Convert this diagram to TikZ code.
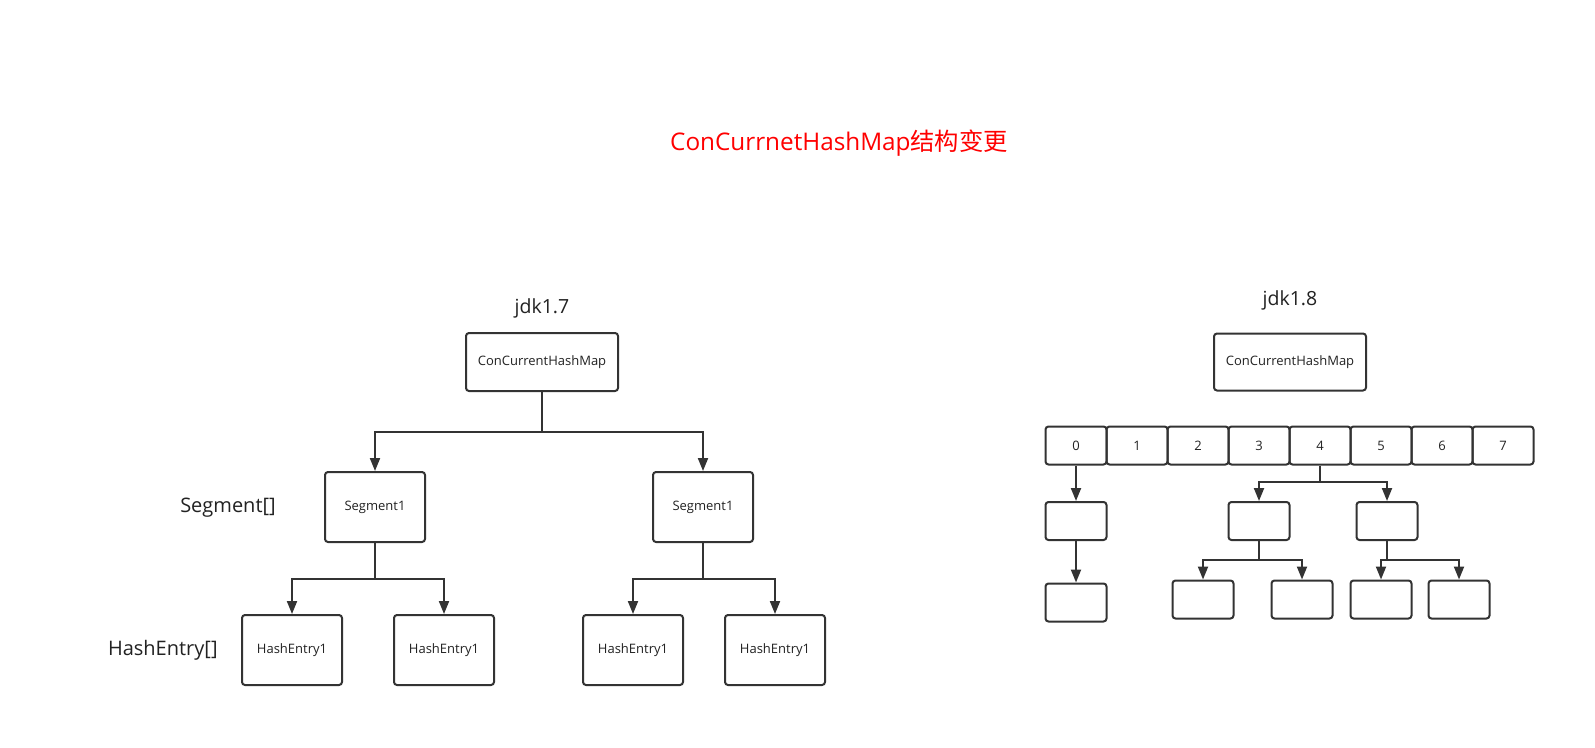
\documentclass[tikz,border=0pt]{standalone}
\usepackage{fontspec}
\setmainfont{Open Sans}
\newfontfamily\cjk{Noto Sans CJK SC}
\usetikzlibrary{arrows.meta}
\definecolor{linec}{HTML}{333333}
\definecolor{textc}{HTML}{222222}
\definecolor{titlec}{HTML}{FF0000}
\begin{document}
\begin{tikzpicture}[x=1pt,y=-1pt,
  box/.style={draw=linec, line width=2pt, rounded corners=3pt, inner sep=0pt, text=textc, font=\fontsize{13}{15}\selectfont},
  big/.style={box, minimum width=100pt, minimum height=70pt},
  hebox/.style={box, minimum width=100pt, minimum height=70pt},
  cell/.style={box, minimum width=61pt, minimum height=38pt},
  small/.style={box, minimum width=61pt, minimum height=38pt},
  lbl/.style={text=textc, inner sep=0pt, font=\fontsize{20}{24}\selectfont},
  conn/.style={draw=linec, line width=2pt, -{Triangle[length=13pt,width=10pt]}},
  plain/.style={draw=linec, line width=2pt}]
\useasboundingbox (0,0) rectangle (1595,747);
\fill[white] (0,0) rectangle (1595,747);

% title
\node[text=titlec, inner sep=0pt, font=\fontsize{24.3}{28}\selectfont] (title) at (839,143) {ConCurrnetHashMap{\cjk 结构变更}};

% ---------- jdk1.7 ----------
\node[lbl, font=\fontsize{19.5}{23}\selectfont] (jdk7) at (542,308) {jdk1.7};
\node[box, minimum width=152pt, minimum height=58pt] (cchmA) at (542,362) {ConCurrentHashMap};
\node[big] (seg1) at (375,507) {Segment1};
\node[big] (seg2) at (703,507) {Segment1};
\node[hebox] (he1) at (292,650) {HashEntry1};
\node[hebox] (he2) at (444,650) {HashEntry1};
\node[hebox] (he3) at (633,650) {HashEntry1};
\node[hebox] (he4) at (775,650) {HashEntry1};
\node[lbl] (segl) at (228,508) {Segment[]};
\node[lbl] (hel) at (162.8,650) {HashEntry[]};

\coordinate (j1) at (542,432);
\coordinate (j2) at (375,579);
\coordinate (j3) at (703,579);
\draw[plain] (cchmA.south) -- (j1);
\draw[conn] (j1) -| (seg1.north);
\draw[conn] (j1) -| (seg2.north);
\draw[plain] (seg1.south) -- (j2);
\draw[conn] (j2) -| (he1.north);
\draw[conn] (j2) -| (he2.north);
\draw[plain] (seg2.south) -- (j3);
\draw[conn] (j3) -| (he3.north);
\draw[conn] (j3) -| (he4.north);

% ---------- jdk1.8 ----------
\node[lbl, font=\fontsize{19.5}{23}\selectfont] (jdk8) at (1290,300) {jdk1.8};
\node[box, minimum width=152pt, minimum height=57pt] (cchmB) at (1290,362) {ConCurrentHashMap};
\foreach \i in {0,...,7} {
  \node[cell] (c\i) at (1076+61*\i,445.5) {\i};
}
\node[small] (b0) at (1076,521) {};
\node[small] (b4a) at (1259,521) {};
\node[small] (b4b) at (1387,521) {};
\node[small] (d0) at (1076,602.5) {};
\node[small] (d1) at (1203,599.5) {};
\node[small] (d2) at (1302,599.5) {};
\node[small] (d3) at (1381,599.5) {};
\node[small] (d4) at (1459,599.5) {};

\coordinate (j4) at (1320,482);
\coordinate (j5) at (1259,560);
\coordinate (j6) at (1387,560);
\draw[conn] (c0.south) -- (b0.north);
\draw[conn] (b0.south) -- (d0.north);
\draw[plain] (c4.south) -- (j4);
\draw[conn] (j4) -| (b4a.north);
\draw[conn] (j4) -| (b4b.north);
\draw[plain] (b4a.south) -- (j5);
\draw[conn] (j5) -| (d1.north);
\draw[conn] (j5) -| (d2.north);
\draw[plain] (b4b.south) -- (j6);
\draw[conn] (j6) -| (d3.north);
\draw[conn] (j6) -| (d4.north);
\end{tikzpicture}
\end{document}
